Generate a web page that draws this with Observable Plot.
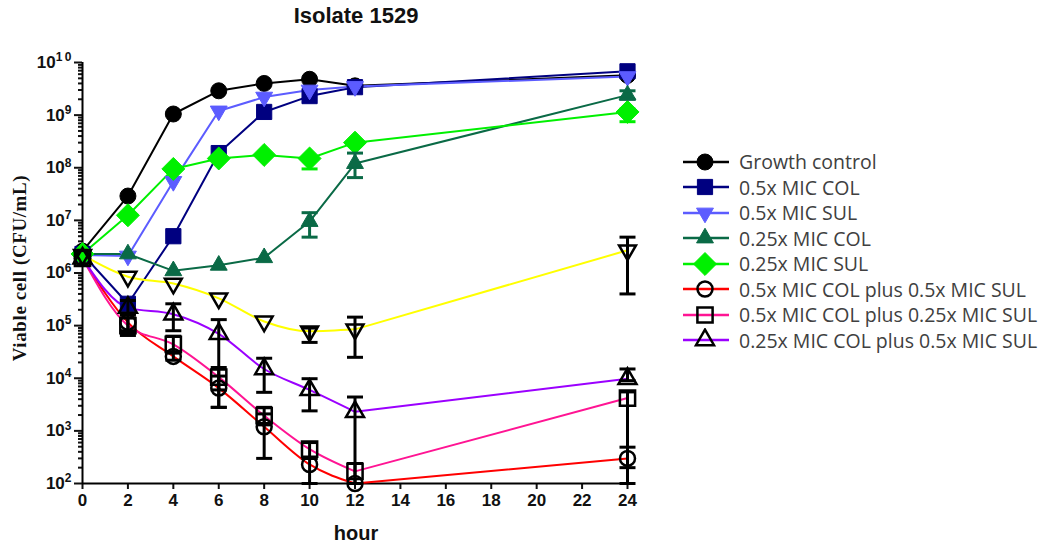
<!DOCTYPE html>
<html>
<head>
<meta charset="utf-8">
<script src="https://cdn.jsdelivr.net/npm/d3@7"></script>
<script src="https://cdn.jsdelivr.net/npm/@observablehq/plot@0.6"></script>
<style>
  body { margin: 0; background: #fff; }
  #wrap { position: relative; width: 1045px; height: 549px; overflow: hidden; font-family: "Liberation Sans", Arial, sans-serif; }
  #chart { position: absolute; left: 0; top: 0; }
  #title { position: absolute; left: 0; width: 712px; text-align: center; top: 3px; font-weight: bold; font-size: 22px; color: #111; }
  #xlabel { position: absolute; left: 0; width: 712px; text-align: center; top: 522px; font-weight: bold; font-size: 20px; color: #111; }
  #ylabel { position: absolute; left: 20px; top: 268px; transform: translate(-50%, -50%) rotate(-90deg); white-space: nowrap;
            font-family: "Liberation Serif", "Times New Roman", serif; font-weight: bold; font-size: 19px; letter-spacing: 0.6px; color: #111; }
  #legend { position: absolute; left: 683px; top: 149px; }
  .row { display: flex; align-items: center; height: 25.5px; font-family: "Open Sans", sans-serif; font-size: 19.5px; color: #404040; white-space: nowrap; }
  .row svg { margin-right: 10px; flex: none; }
</style>
</head>
<body>
<div id="wrap">
  <div id="chart"></div>
  <div id="title">Isolate 1529</div>
  <div id="xlabel">hour</div>
  <div id="ylabel">Viable cell (CFU/mL)</div>
  <div id="legend"></div>
</div>
<script>
// Sampling times (hours)
const hours = [0, 2, 4, 6, 8, 10, 12, 24];

// Viable counts (CFU/mL) per treatment
const growthControl    = [2.6e6, 2.9e7, 1.05e9, 2.9e9, 4.0e9, 4.8e9, 3.6e9, 5.7e9];
const col05            = [2.3e6, 2.6e5, 5.0e6, 1.9e8, 1.15e9, 2.3e9, 3.4e9, 6.8e9];
const sul05            = [2.2e6, 2.1e6, 5.5e7, 1.2e9, 2.2e9, 3.0e9, 3.5e9, 5.4e9];
const col025           = [2.3e6, 2.3e6, 1.1e6, 1.4e6, 1.95e6, 9.5e6, 1.2e8, 2.4e9];
const sul025           = [2.3e6, 1.25e7, 9.5e7, 1.5e8, 1.75e8, 1.5e8, 3.0e8, 1.15e9];
const unlabeledSeries  = [2.2e6, 8.5e5, 6.3e5, 3.3e5, 1.2e5, 7.8e4, 8.5e4, 2.7e6];
const col05PlusSul05   = [1.9e6, 1.15e5, 2.6e4, 6.5e3, 1.2e3, 2.3e2, 1.0e2, 3.0e2];
const col05PlusSul025  = [1.9e6, 1.0e5, 4.4e4, 1.05e4, 1.95e3, 4.5e2, 1.7e2, 4.2e3];
const col025PlusSul05  = [1.9e6, 2.2e5, 1.65e5, 7.0e4, 1.5e4, 6.0e3, 2.3e3, 9.8e3];

// Error bars [low, high] per time point (null = none shown)
const col025Err          = [null, null, null, null, null, [4.8e6, 1.4e7], [6.5e7, 1.9e8], [2.0e9, 2.9e9]];
const sul025Err          = [null, null, null, null, null, [9.5e7, 1.6e8], null, [7.5e8, 1.3e9]];
const unlabeledErr       = [null, null, null, null, null, [4.8e4, 9.0e4], [2.5e4, 1.45e5], [4.0e5, 4.8e6]];
const col05PlusSul05Err  = [null, [8.0e4, 1.7e5], [2.2e4, 3.0e4], [2.8e3, 1.1e4], [3.0e2, 2.1e3], [1.0e2, 3.0e2], null, [2.0e2, 4.9e2]];
const col05PlusSul025Err = [null, [6.5e4, 1.4e5], [3.2e4, 6.3e4], [6.0e3, 1.6e4], [1.3e3, 2.8e3], [3.0e2, 6.0e2], [1.0e2, 2.4e2], [1.0e2, 5.5e3]];
const col025PlusSul05Err = [null, [1.6e5, 3.0e5], [8.0e4, 2.6e5], [2.8e3, 1.3e5], [5.4e3, 2.4e4], [2.4e3, 9.8e3], [1.0e2, 4.4e3], [9.0e3, 1.5e4]];

// Axis ticks
const xTicks = [0, 2, 4, 6, 8, 10, 12, 14, 16, 18, 20, 22, 24];
const yTicks = [1e2, 1e3, 1e4, 1e5, 1e6, 1e7, 1e8, 1e9, 1e10];

// Marker shapes
const triUp = { draw(ctx, size) { const r = Math.sqrt(size / Math.PI) * 1.3;
  ctx.moveTo(0, -r); ctx.lineTo(r * 0.866, r * 0.5); ctx.lineTo(-r * 0.866, r * 0.5); ctx.closePath(); } };
const triDown = { draw(ctx, size) { const r = Math.sqrt(size / Math.PI) * 1.3;
  ctx.moveTo(0, r); ctx.lineTo(r * 0.866, -r * 0.5); ctx.lineTo(-r * 0.866, -r * 0.5); ctx.closePath(); } };
const diamond = { draw(ctx, size) { const r = Math.sqrt(size / Math.PI) * 1.35;
  ctx.moveTo(0, -r); ctx.lineTo(r, 0); ctx.lineTo(0, r); ctx.lineTo(-r, 0); ctx.closePath(); } };
const square = { draw(ctx, size) { const h = Math.sqrt(size / Math.PI) * 0.95;
  ctx.rect(-h, -h, 2 * h, 2 * h); } };
const cap = { draw(ctx) { ctx.moveTo(-8, 0); ctx.lineTo(8, 0); } };

const series = [
  { name: "Growth control", values: growthControl, color: "#000000", symbol: "circle", filled: true, r: 8, smooth: false, legend: true },
  { name: "0.5x MIC COL", values: col05, color: "#000080", symbol: square, filled: true, r: 8, smooth: false, legend: true },
  { name: "0.5x MIC SUL", values: sul05, color: "#5c5cff", symbol: triDown, filled: true, r: 7.5, smooth: false, legend: true },
  { name: "0.25x MIC COL", values: col025, color: "#0a6a46", symbol: triUp, filled: true, r: 7.5, smooth: false, legend: true, err: col025Err, errColor: "#0a6a46" },
  { name: "0.25x MIC SUL", values: sul025, color: "#00f000", symbol: diamond, filled: true, r: 8.5, smooth: false, legend: true, err: sul025Err, errColor: "#00f000" },
  { name: "", values: unlabeledSeries, color: "#ffff00", symbol: triDown, filled: false, r: 7.5, smooth: true, legend: false, err: unlabeledErr, errColor: "#000" },
  { name: "0.5x MIC COL plus 0.5x MIC SUL", values: col05PlusSul05, color: "#ff0000", symbol: "circle", filled: false, r: 7.5, smooth: true, legend: true, err: col05PlusSul05Err, errColor: "#000" },
  { name: "0.5x MIC COL plus 0.25x MIC SUL", values: col05PlusSul025, color: "#ff1493", symbol: square, filled: false, r: 8, smooth: true, legend: true, err: col05PlusSul025Err, errColor: "#000" },
  { name: "0.25x MIC COL plus 0.5x MIC SUL", values: col025PlusSul05, color: "#9b00ff", symbol: triUp, filled: false, r: 8, smooth: true, legend: true, err: col025PlusSul05Err, errColor: "#000" }
];

const pts = s => hours.map((h, i) => ({ hour: h, value: s.values[i] }));
const errs = s => (s.err || []).map((e, i) => e && ({ hour: hours[i], lo: e[0], hi: e[1] })).filter(Boolean);

const marks = [];
// connecting lines: smoothed through the 0–12 h samples, straight to the 24 h sample
for (const s of series) {
  const p = pts(s);
  if (s.smooth) {
    marks.push(Plot.line(p.filter(d => d.hour <= 12), { x: "hour", y: "value", stroke: s.color, strokeWidth: 2, curve: "monotone-x" }));
    marks.push(Plot.line(p.filter(d => d.hour >= 12), { x: "hour", y: "value", stroke: s.color, strokeWidth: 2 }));
  } else {
    marks.push(Plot.line(p, { x: "hour", y: "value", stroke: s.color, strokeWidth: 2 }));
  }
}
// markers
for (const s of series) {
  marks.push(Plot.dot(pts(s), { x: "hour", y: "value", r: s.r, symbol: s.symbol,
    fill: s.filled ? s.color : "none", stroke: s.filled ? s.color : "#000", strokeWidth: s.filled ? 1 : 2.5 }));
}
// error bars
for (const s of series) {
  const e = errs(s);
  if (!e.length) continue;
  marks.push(Plot.ruleX(e, { x: "hour", y1: "lo", y2: "hi", stroke: s.errColor, strokeWidth: 3 }));
  marks.push(Plot.dot(e, { x: "hour", y: "lo", symbol: cap, stroke: s.errColor, strokeWidth: 3, fill: "none" }));
  marks.push(Plot.dot(e, { x: "hour", y: "hi", symbol: cap, stroke: s.errColor, strokeWidth: 3, fill: "none" }));
}

const minorTicks = [];
for (let d = 2; d < 10; d++) for (let p = 2; p < 10; p++) minorTicks.push(p * 10 ** d);

const chart = Plot.plot({
  width: 709,
  height: 549,
  marginLeft: 82,
  marginRight: 82,
  marginTop: 62,
  marginBottom: 66,
  style: { fontFamily: "'Liberation Sans', Arial, sans-serif", fontSize: "17px", fontWeight: "bold", color: "#111", overflow: "visible" },
  x: { domain: [0, 24], label: null },
  y: { type: "log", domain: [1e2, 1e10], label: null },
  marks: [
    Plot.axisY({ ticks: minorTicks, tickSize: 4, tickFormat: () => "", strokeWidth: 2 }),
    Plot.axisY({ ticks: yTicks, tickSize: 8, tickPadding: 3, strokeWidth: 2,
                 tickFormat: d => "10^" + Math.round(Math.log10(d)), label: null }),
    Plot.axisX({ ticks: xTicks, tickSize: 6, tickPadding: 4, strokeWidth: 2, tickFormat: d => String(d), label: null }),
    Plot.ruleX([0], { stroke: "#000", strokeWidth: 2 }),
    Plot.ruleY([1e2], { stroke: "#000", strokeWidth: 2 }),
    ...marks
  ]
});
document.getElementById("chart").appendChild(chart);

// Render "10^n" tick labels with superscript exponents
chart.querySelectorAll('g[aria-label="y-axis tick label"] text').forEach(t => {
  const m = /^10\^(\d+)$/.exec(t.textContent);
  if (!m) return;
  t.textContent = "10";
  const sup = document.createElementNS("http://www.w3.org/2000/svg", "tspan");
  sup.setAttribute("dy", "-0.55em");
  sup.setAttribute("font-size", "12");
  sup.textContent = m[1].split("").join(m[1].length > 1 ? "\u2009" : "");
  t.appendChild(sup);
});

// Legend
const legend = d3.select("#legend");
for (const s of series.filter(d => d.legend)) {
  const row = legend.append("div").attr("class", "row");
  const svg = row.append("svg").attr("width", 46).attr("height", 24);
  svg.append("line").attr("x1", 0).attr("x2", 46).attr("y1", 12).attr("y2", 12)
    .attr("stroke", s.color).attr("stroke-width", 2.5);
  const type = typeof s.symbol === "string" ? d3.symbolCircle : s.symbol;
  svg.append("path").attr("transform", "translate(22,12)")
    .attr("d", d3.symbol(type, Math.PI * s.r * s.r)())
    .attr("fill", s.filled ? s.color : "none")
    .attr("stroke", s.filled ? s.color : "#000")
    .attr("stroke-width", s.filled ? 1 : 2.5);
  row.append("span").text(s.name);
}
</script>
</body>
</html>
